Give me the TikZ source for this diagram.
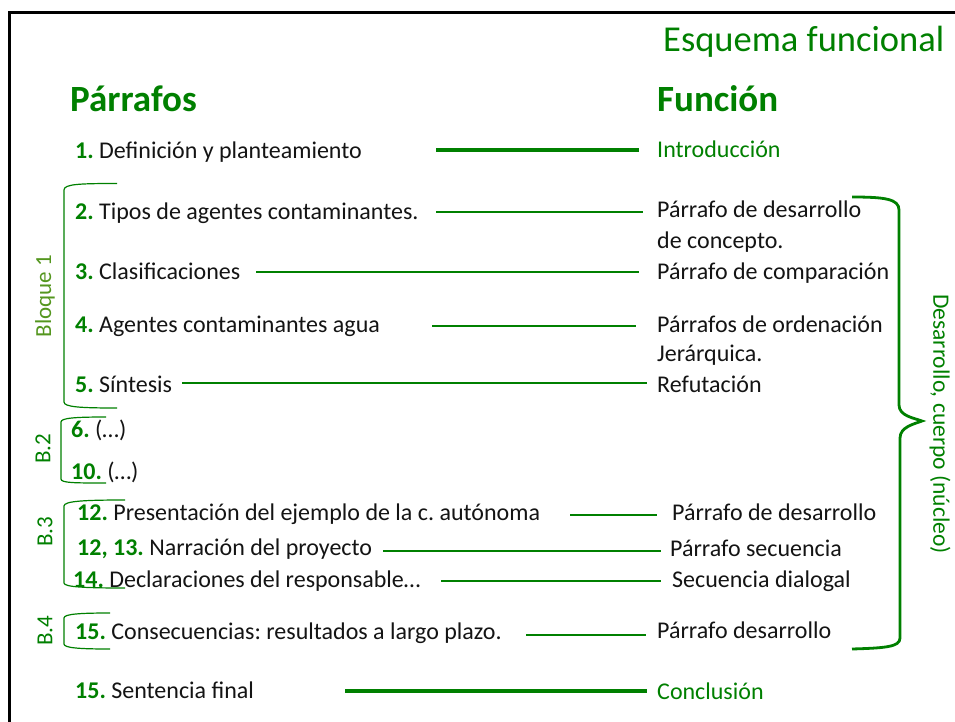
\documentclass[tikz,border=0pt]{standalone}
\usepackage{fontspec}
\setmainfont{Carlito}
\frenchspacing
\definecolor{G}{RGB}{0,128,0}
\definecolor{GL}{RGB}{84,150,30}
\definecolor{TX}{RGB}{20,20,20}
\newcommand{\nm}[1]{\textbf{\textcolor{G}{#1}}}
\begin{document}
\begin{tikzpicture}[x=1pt,y=-1pt,
  txt/.style={anchor=base west, inner sep=0, text=TX, font=\fontsize{24}{28}\selectfont\frenchspacing},
  gtxt/.style={anchor=base west, inner sep=0, text=G, font=\fontsize{24}{28}\selectfont\frenchspacing},
  hdr/.style={anchor=base west, inner sep=0, text=G, font=\fontsize{37}{40}\selectfont\bfseries},
  ttl/.style={anchor=base west, inner sep=0, text=G, font=\fontsize{36.5}{40}\selectfont},
  lnthin/.style={draw=G, line width=1.3},
  lnthick/.style={draw=G, line width=4},
  brk/.style={draw=G, line width=1.2},
  bracestyle/.style={draw=G, line width=2.8},
  vlab/.style={inner sep=0, text=G, font=\fontsize{23}{26}\selectfont},
]
\useasboundingbox (0,0) rectangle (955,722);
\fill[white] (0,0) rectangle (955,722);
% frame
\draw[black, line width=3] (9.5,722) -- (9.5,13) -- (955,13);

% headers
\node[ttl] (title) at (663,52) {Esquema funcional};
\node[hdr] (hp) at (70,112) {Párrafos};
\node[hdr] (hf) at (657,112) {Función};

% left column
\node[txt] (p1) at (75,159) {\nm{1.} Definición y planteamiento};
\node[txt] (p2) at (75,219) {\nm{2.} Tipos de agentes contaminantes.};
\node[txt] (p3) at (75,279) {\nm{3.} Clasificaciones};
\node[txt] (p4) at (75,332) {\nm{4.} Agentes contaminantes agua};
\node[txt] (p5) at (75,392) {\nm{5.} Síntesis};
\node[txt] (p6) at (71,437) {\nm{6.} (…)};
\node[txt] (p10) at (71,479) {\nm{10.} (…)};
\node[txt] (p12) at (77,520) {\nm{12.} Presentación del ejemplo de la c. autónoma};
\node[txt] (p13) at (77,555) {\nm{12, 13.} Narración del proyecto};
\node[txt] (p14) at (73,587) {\nm{14.} Declaraciones del responsable…};
\node[txt] (p15) at (75,639) {\nm{15.} Consecuencias: resultados a largo plazo.};
\node[txt] (p16) at (75,698) {\nm{15.} Sentencia final};

% right column
\node[gtxt] (f1) at (657,158) {Introducción};
\node[txt] (f2) at (657,218) {Párrafo de desarrollo};
\node[txt] (f2b) at (657,248) {de concepto.};
\node[txt] (f3) at (657,279) {Párrafo de comparación};
\node[txt] (f4) at (657,332) {Párrafos de ordenación};
\node[txt] (f4b) at (657,361) {Jerárquica.};
\node[txt] (f5) at (657,392) {Refutación};
\node[txt] (f12) at (672,520) {Párrafo de desarrollo};
\node[txt] (f13) at (670,556) {Párrafo secuencia};
\node[txt] (f14) at (672,587) {Secuencia dialogal};
\node[txt] (f15) at (657,638) {Párrafo desarrollo};
\node[gtxt] (f16) at (657,699) {Conclusión};

% connector end points
\coordinate (a1) at (436,150); \coordinate (b1) at (639,150);
\coordinate (a2) at (436,212); \coordinate (b2) at (643,212);
\coordinate (a3) at (256,272); \coordinate (b3) at (639,272);
\coordinate (a4) at (432,326); \coordinate (b4) at (636,326);
\coordinate (a5) at (182,383); \coordinate (b5) at (647,383);
\coordinate (a12) at (570,515); \coordinate (b12) at (657,515);
\coordinate (a13) at (383,551); \coordinate (b13) at (661,551);
\coordinate (a14) at (441,581); \coordinate (b14) at (661,581);
\coordinate (a15) at (526,635); \coordinate (b15) at (646,635);
\coordinate (a16) at (345,691); \coordinate (b16) at (647,691);

\draw[lnthick] (a1) -- (b1);
\draw[lnthin] (a2) -- (b2);
\draw[lnthin] (a3) -- (b3);
\draw[lnthin] (a4) -- (b4);
\draw[lnthin] (a5) -- (b5);
\draw[lnthin] (a12) -- (b12);
\draw[lnthin] (a13) -- (b13);
\draw[lnthin] (a14) -- (b14);
\draw[lnthin] (a15) -- (b15);
\draw[lnthick] (a16) -- (b16);

% left brackets
\draw[brk] (117,183.5) .. controls (80,183.5) and (64,184) .. (64,190) -- (64,402) .. controls (64,407) and (80,408) .. (117,408);
\draw[brk] (106,417) .. controls (75,417) and (61,418) .. (61,422) -- (61,479) .. controls (61,483) and (75,483) .. (106,483);
\draw[brk] (125,500) .. controls (85,500) and (64,501) .. (64,506) -- (64,583) .. controls (64,587) and (85,588) .. (125,588);
\draw[brk] (110,613) .. controls (80,613) and (64,614) .. (64,618) -- (64,644) .. controls (64,648) and (80,649) .. (110,649);

\node[vlab, text=GL, rotate=90] (bl1) at (45,296) {Bloque 1};
\node[vlab, rotate=90] (bl2) at (43,449) {B.2};
\node[vlab, rotate=90] (bl3) at (45,532) {B.3};
\node[vlab, rotate=90] (bl4) at (45,631) {B.4};

% right brace
\draw[bracestyle] (852,197) .. controls (885,197) and (899,199) .. (899,210) -- (899,405) .. controls (899,416) and (914,418) .. (922,421) .. controls (914,424) and (900,427) .. (900,438) -- (900,638) .. controls (900,647) and (885,648) .. (852,649);
\node[inner sep=0, text=G, font=\fontsize{23.5}{28}\selectfont, rotate=-90] (dl) at (940,424) {Desarrollo, cuerpo (núcleo)};
\end{tikzpicture}
\end{document}
